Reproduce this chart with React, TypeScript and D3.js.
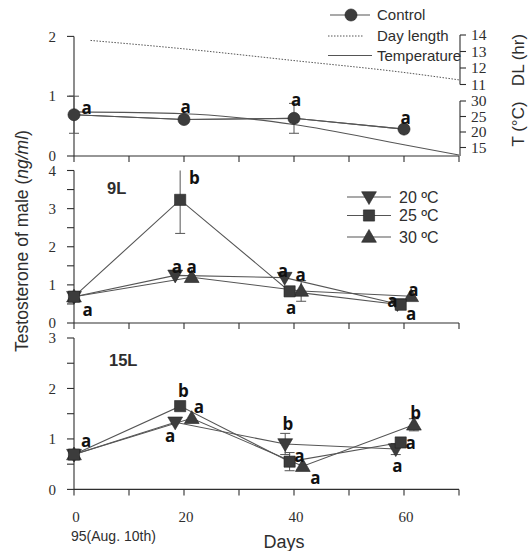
import * as d3 from 'd3';

// x axis (days)
const dayTicks = [0, 10, 20, 30, 40, 50, 60, 70];
const dayLabels = [0, 20, 40, 60];

// control panel
const controlDays = [0, 20, 40, 60];
const controlValues = [0.69, 0.61, 0.63, 0.45];
const controlErrors = [0.31, 0.04, 0.25, 0.05];
const controlLetters = ['a', 'a', 'a', 'a'];
const controlLetterPos = [[2.3, 0.8], [20.3, 0.82], [40.4, 0.94], [60.3, 0.64]];
const dayLengthDays = [3, 20, 40, 60, 70];
const dayLengthHours = [13.67, 13.16, 12.45, 11.73, 11.28];
const tempDays = [0, 20, 30, 40, 60, 70];
const tempValues = [26.5, 25.9, 24.6, 22.4, 15.9, 12.6];
const dlTicks = [11, 12, 13, 14];
const tTicks = [15, 20, 25, 30];

// 9L panel
const l9Days20 = [0, 18.4, 38.3, 58.8];
const l9Vals20 = [0.69, 1.25, 1.19, 0.5];
const l9Err20 = [0, 0, 0, 0];
const l9Days25 = [0, 19.3, 39.2, 59.4];
const l9Vals25 = [0.69, 3.23, 0.83, 0.48];
const l9Err25 = [0, 0.88, 0, 0];
const l9Days30 = [0, 21.4, 41.3, 61.3];
const l9Vals30 = [0.69, 1.2, 0.84, 0.7];
const l9Err30 = [0, 0, 0.27, 0];
const l9Letters = ['a', 'b', 'a', 'a', 'a', 'a', 'a', 'a', 'a', 'a'];
const l9LetterPos = [[2.5, 0.35], [21.9, 3.78], [18.7, 1.47], [21.4, 1.47], [38, 1.38], [41.2, 1.25], [39.5, 0.4], [57.9, 0.57], [61.7, 0.88], [61.3, 0.24]];

// 15L panel
const l15Days20 = [0, 18.4, 38.4, 58.5];
const l15Vals20 = [0.69, 1.33, 0.9, 0.8];
const l15Err20 = [0, 0, 0.21, 0.11];
const l15Days25 = [0, 19.3, 39.2, 59.4];
const l15Vals25 = [0.69, 1.65, 0.55, 0.93];
const l15Err25 = [0, 0, 0.18, 0];
const l15Days30 = [0, 21.4, 41.6, 61.8];
const l15Vals30 = [0.69, 1.41, 0.46, 1.28];
const l15Err30 = [0, 0, 0, 0.12];
const l15Letters = ['a', 'b', 'a', 'a', 'b', 'a', 'a', 'b', 'a', 'a'];
const l15LetterPos = [[2.2, 0.97], [19.9, 1.93], [22.7, 1.63], [17.5, 1.07], [38.9, 1.27], [41, 0.67], [43.9, 0.23], [62.1, 1.5], [61.2, 0.93], [58.8, 0.47]];

const legendTemps = ['20 ºC', '25 ºC', '30 ºC'];

const INK = '#2e2e2e';
const LINE = '#555';
const MARK = '#3c3c3c';
const SERIF = '"Liberation Serif", "DejaVu Serif", serif';
const SANS = '"Liberation Sans", Arial, sans-serif';
const LETTER = '"Open Sans", "Liberation Sans", sans-serif';

const x = d3.scaleLinear().domain([0, 70]).range([74, 459]);
const yTop = d3.scaleLinear().domain([0, 2]).range([156, 36.4]);
const yMid = d3.scaleLinear().domain([0, 4]).range([323, 170.5]);
const yBot = d3.scaleLinear().domain([0, 3]).range([489.4, 338]);
const yDL = d3.scaleLinear().domain([11, 14]).range([84.5, 35]);
const yT = d3.scaleLinear().domain([15, 30]).range([147.5, 101]);

const sym = {
  circle: d3.symbol(d3.symbolCircle, 115)(),
  square: d3.symbol(d3.symbolSquare, 125)(),
  tri: d3.symbol(d3.symbolTriangle, 95)(),
};

type Kind = 'circle' | 'square' | 'down' | 'up';

function Marker({ kind, cx, cy }: { kind: Kind; cx: number; cy: number }) {
  const d = kind === 'circle' ? sym.circle : kind === 'square' ? sym.square : sym.tri;
  const rot = kind === 'down' ? ' rotate(180)' : '';
  const dy = kind === 'down' ? -1 : kind === 'up' ? 1 : 0;
  return <path d={d!} transform={`translate(${cx},${cy + dy})${rot}`} fill={MARK} stroke="#222" strokeWidth={0.6} />;
}

function Series({ days, vals, errs, y }: { days: number[]; vals: number[]; errs: number[]; y: d3.ScaleLinear<number, number> }) {
  const line = d3.line<number>().x((_, i) => x(days[i])).y((v) => y(v));
  const [lo, hi] = y.domain();
  return (
    <g>
      <path d={line(vals)!} fill="none" stroke={LINE} strokeWidth={1.1} />
      {vals.map((v, i) => {
        if (!errs[i]) return null;
        const top = Math.min(v + errs[i], hi);
        const bot = Math.max(v - errs[i], lo);
        const cx = x(days[i]);
        return (
          <g key={'e' + i} stroke={LINE} strokeWidth={1}>
            <line x1={cx} x2={cx} y1={y(top)} y2={y(bot)} />
            {v + errs[i] <= hi && <line x1={cx - 5} x2={cx + 5} y1={y(top)} y2={y(top)} />}
            <line x1={cx - 5} x2={cx + 5} y1={y(bot)} y2={y(bot)} />
          </g>
        );
      })}
    </g>
  );
}

function Markers({ days, vals, kind, y }: { days: number[]; vals: number[]; kind: Kind; y: d3.ScaleLinear<number, number> }) {
  return <g>{vals.map((v, i) => <Marker key={i} kind={kind} cx={x(days[i])} cy={y(v)} />)}</g>;
}

function Letters({ letters, pos, y }: { letters: string[]; pos: number[][]; y: d3.ScaleLinear<number, number> }) {
  return (
    <g fontFamily={LETTER} fontWeight={700} fontSize={17} fill="#111" textAnchor="middle">
      {letters.map((t, i) => (
        <text key={i} x={x(pos[i][0])} y={y(pos[i][1])} dy={t === 'b' ? '0.3em' : '0.36em'}>{t}</text>
      ))}
    </g>
  );
}

function Axes({ y, ticks, minor, top }: { y: d3.ScaleLinear<number, number>; ticks: number[]; minor: number[]; top: number }) {
  return (
    <g stroke={INK} strokeWidth={1.1}>
      <line x1={x(0)} x2={x(0)} y1={y(top)} y2={y(0)} />
      <line x1={x(0)} x2={x(70)} y1={y(0)} y2={y(0)} />
      {minor.map((t) => <line key={'m' + t} x1={x(0) - 7} x2={x(0)} y1={y(t)} y2={y(t)} />)}
      {dayTicks.map((d) => <line key={'d' + d} x1={x(d)} x2={x(d)} y1={y(0)} y2={y(0) + 6} />)}
      <g stroke="none" fill={INK} fontFamily={SERIF} fontSize={15} textAnchor="end">
        {ticks.map((t) => <text key={t} x={56} y={y(t)} dy="0.35em">{t}</text>)}
      </g>
    </g>
  );
}

export default function App() {
  const ctrlLine = d3.line<number>().x((_, i) => x(controlDays[i])).y((v) => yTop(v));
  const dlLine = d3.line<number>().x((_, i) => x(dayLengthDays[i])).y((v) => yDL(v)).curve(d3.curveMonotoneX);
  const tLine = d3.line<number>().x((_, i) => x(tempDays[i])).y((v) => yT(v)).curve(d3.curveMonotoneX);
  const kinds: Kind[] = ['down', 'square', 'up'];
  const half = (n: number) => d3.range(0, n + 0.01, 0.5);

  return (
    <svg width={528} height={551} style={{ position: 'absolute', left: 0, top: 0, background: '#fff' }}>
      {/* top panel: control */}
      <Axes y={yTop} ticks={[0, 1, 2]} minor={[0, 1, 2]} top={2} />
      <g stroke={INK} strokeWidth={1.1}>
        <line x1={460} x2={460} y1={yDL(14)} y2={yDL(11)} />
        {dlTicks.map((t) => <line key={t} x1={460} x2={466} y1={yDL(t)} y2={yDL(t)} />)}
        <line x1={460} x2={460} y1={yT(30)} y2={yTop(0)} />
        {tTicks.map((t) => <line key={t} x1={460} x2={466} y1={yT(t)} y2={yT(t)} />)}
      </g>
      <g fill={INK} fontFamily={SERIF} fontSize={15.5}>
        {dlTicks.map((t) => <text key={t} x={471} y={yDL(t)} dy="0.35em">{t}</text>)}
        {tTicks.map((t) => <text key={t} x={471} y={yT(t)} dy="0.35em">{t}</text>)}
      </g>
      <text transform="translate(518,60) rotate(-90)" textAnchor="middle" dy="0.35em" fontFamily={SANS} fontSize={17} fill={INK}>DL (hr)</text>
      <text transform="translate(518,124) rotate(-90)" textAnchor="middle" dy="0.35em" fontFamily={SANS} fontSize={17} fill={INK}>T (°C)</text>
      <path d={dlLine(dayLengthHours)!} fill="none" stroke="#555" strokeWidth={1} strokeDasharray="1.5,1.5" />
      <path d={tLine(tempValues)!} fill="none" stroke={LINE} strokeWidth={1.1} />
      <path d={ctrlLine(controlValues)!} fill="none" stroke={LINE} strokeWidth={1.1} />
      <Series days={controlDays} vals={controlValues} errs={controlErrors} y={yTop} />
      <Markers days={controlDays} vals={controlValues} kind="circle" y={yTop} />
      <Letters letters={controlLetters} pos={controlLetterPos} y={yTop} />

      {/* top legend */}
      <g fontFamily={SANS} fontSize={15} fill={INK}>
        <line x1={330} x2={370} y1={15} y2={15} stroke={LINE} strokeWidth={1.1} />
        <Marker kind="circle" cx={351} cy={15} />
        <text x={377} y={15} dy="0.35em">Control</text>
        <line x1={328} x2={364} y1={36} y2={36} stroke="#555" strokeWidth={1} strokeDasharray="1.5,1.5" />
        <text x={377} y={36} dy="0.35em">Day length</text>
        <line x1={328} x2={372} y1={55.5} y2={55.5} stroke={LINE} strokeWidth={1.1} />
        <text x={377} y={55.5} dy="0.35em">Temperature</text>
      </g>

      {/* middle panel: 9L */}
      <Axes y={yMid} ticks={[0, 1, 2, 3, 4]} minor={half(4)} top={4} />
      <text x={107} y={194} fontFamily={SANS} fontWeight={700} fontSize={16.5} fill={INK}>9L</text>
      <Series days={l9Days20} vals={l9Vals20} errs={l9Err20} y={yMid} />
      <Series days={l9Days30} vals={l9Vals30} errs={l9Err30} y={yMid} />
      <Series days={l9Days25} vals={l9Vals25} errs={l9Err25} y={yMid} />
      <Markers days={l9Days20} vals={l9Vals20} kind="down" y={yMid} />
      <Markers days={l9Days30} vals={l9Vals30} kind="up" y={yMid} />
      <Markers days={l9Days25} vals={l9Vals25} kind="square" y={yMid} />
      <Letters letters={l9Letters} pos={l9LetterPos} y={yMid} />
      <g fontFamily={SANS} fontSize={16} fill={INK}>
        {legendTemps.map((t, i) => {
          const ly = [197, 215.5, 237][i];
          return (
            <g key={t}>
              <line x1={347} x2={391} y1={ly} y2={ly} stroke={LINE} strokeWidth={1.1} />
              <Marker kind={kinds[i]} cx={369} cy={ly} />
              <text x={399} y={ly} dy="0.35em">{t}</text>
            </g>
          );
        })}
      </g>

      {/* bottom panel: 15L */}
      <Axes y={yBot} ticks={[0, 1, 2, 3]} minor={half(3)} top={3} />
      <text x={109} y={365.5} fontFamily={SANS} fontWeight={700} fontSize={16.5} fill={INK}>15L</text>
      <Series days={l15Days20} vals={l15Vals20} errs={l15Err20} y={yBot} />
      <Series days={l15Days30} vals={l15Vals30} errs={l15Err30} y={yBot} />
      <Series days={l15Days25} vals={l15Vals25} errs={l15Err25} y={yBot} />
      <Markers days={l15Days20} vals={l15Vals20} kind="down" y={yBot} />
      <Markers days={l15Days30} vals={l15Vals30} kind="up" y={yBot} />
      <Markers days={l15Days25} vals={l15Vals25} kind="square" y={yBot} />
      <Letters letters={l15Letters} pos={l15LetterPos} y={yBot} />

      {/* x labels */}
      <g fill={INK} fontFamily={SERIF} fontSize={15} textAnchor="middle">
        {dayLabels.map((d) => <text key={d} x={x(d) + 2} y={522}>{d}</text>)}
      </g>
      <text x={71} y={541} fontFamily={SANS} fontSize={14} fill={INK}>95(Aug. 10th)</text>
      <text x={284} y={548} textAnchor="middle" fontFamily={SANS} fontSize={18} fill={INK}>Days</text>

      {/* y title */}
      <text transform="translate(22,241) rotate(-90)" textAnchor="middle" dy="0.35em" fontFamily={SANS} fontSize={17.5} fill={INK}>
        Testosterone of male (<tspan fontStyle="italic">ng/ml</tspan>)
      </text>
    </svg>
  );
}
